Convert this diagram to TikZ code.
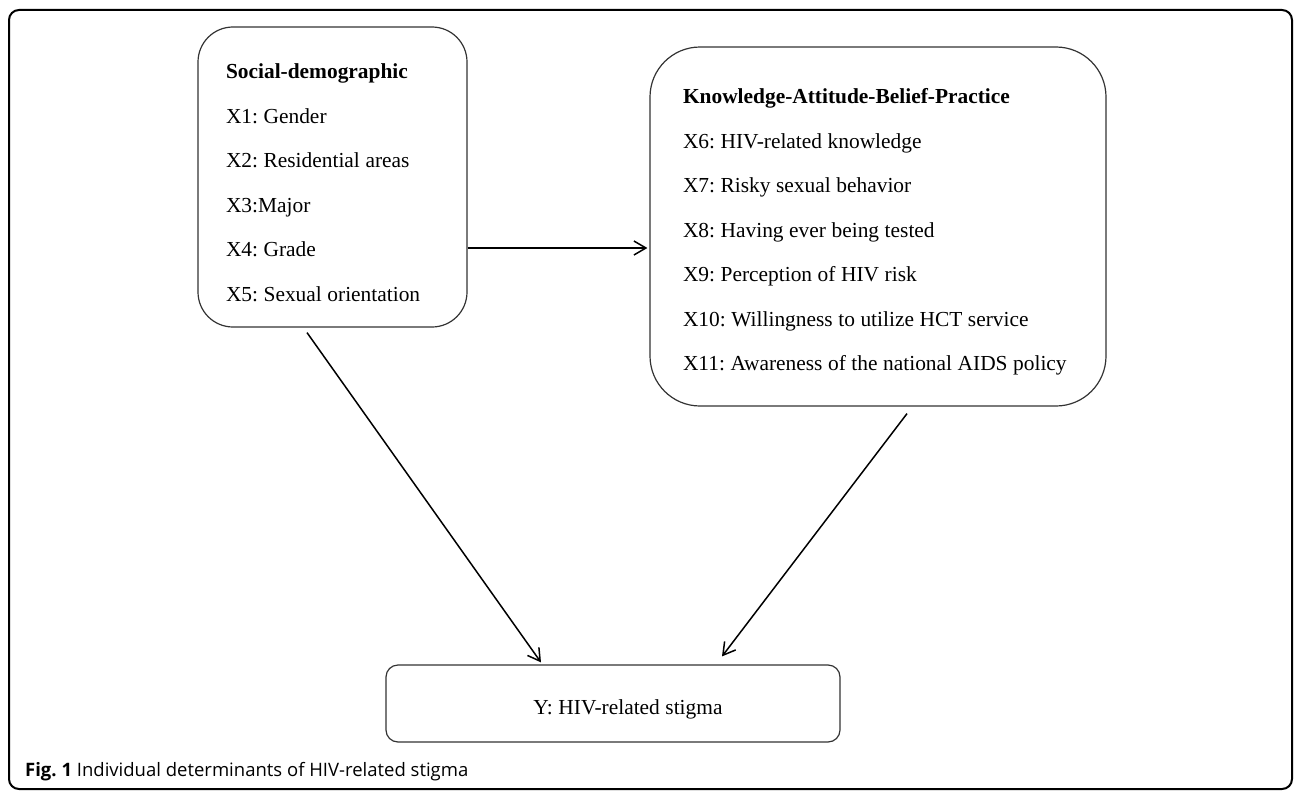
\documentclass[tikz,border=0pt]{standalone}
\usepackage{fontspec}
\setmainfont{Liberation Serif}
\newfontfamily\capfont{Open Sans}
\usepackage{tikz}
\usetikzlibrary{arrows.meta,positioning}
\frenchspacing

\begin{document}
\begin{tikzpicture}[
  x=1pt, y=-1pt,
  box/.style={draw=black!80, line width=1.2pt, align=left, inner ysep=0pt,
    font=\fontsize{21.4}{44.5}\selectfont,
    execute at begin node={\spaceskip=0.26em\relax\rule{0pt}{26.5pt}}},
  arrow/.style={-{Straight Barb[length=12pt,width=14pt]}, line width=1.5pt}
]
\useasboundingbox (0,0) rectangle (1295,792);
\draw[line width=2pt, rounded corners=10pt] (9,10) rectangle (1292,789);

\node[box, rounded corners=35pt, minimum width=269pt, minimum height=300pt,
  inner xsep=28pt, text width=213pt] (social) at (332.5,177)
  {\textbf{Social-demographic}\\ X1: Gender\\ X2: Residential areas\\ X3:Major\\ X4: Grade\\ X5: Sexual orientation};
\node[box, rounded corners=50pt, minimum width=456pt, minimum height=359pt,
  inner xsep=33pt, text width=390pt] (kabp) at (878,226.5)
  {\textbf{Knowledge-Attitude-Belief-Practice}\\ X6: HIV-related knowledge\\ X7: Risky sexual behavior\\ X8: Having ever being tested\\ X9: Perception of HIV risk\\ X10: Willingness to utilize HCT service\\ \mbox{X11: Awareness of the national AIDS policy}};
\node[box, rounded corners=12pt, align=center, minimum width=454pt, minimum height=77pt] (stigma) at (613,703.5)
  {\hspace*{30pt}Y: HIV-related stigma};

\draw[arrow] ([yshift=-71pt]social.east) -- ([xshift=-2pt,yshift=-21.5pt]kabp.west);
\draw[arrow] ([xshift=-25.5pt,yshift=-5pt]social.south) -- ([xshift=-72pt,yshift=2pt]stigma.north);
\draw[arrow] ([xshift=29pt,yshift=-7pt]kabp.south) -- ([xshift=109pt,yshift=8pt]stigma.north);

\node[anchor=base west, inner sep=0pt, font=\capfont\fontsize{18.5}{20}\selectfont] (caption) at (25,776)
  {\textbf{Fig. 1} Individual determinants of HIV-related stigma};
\end{tikzpicture}
\end{document}
